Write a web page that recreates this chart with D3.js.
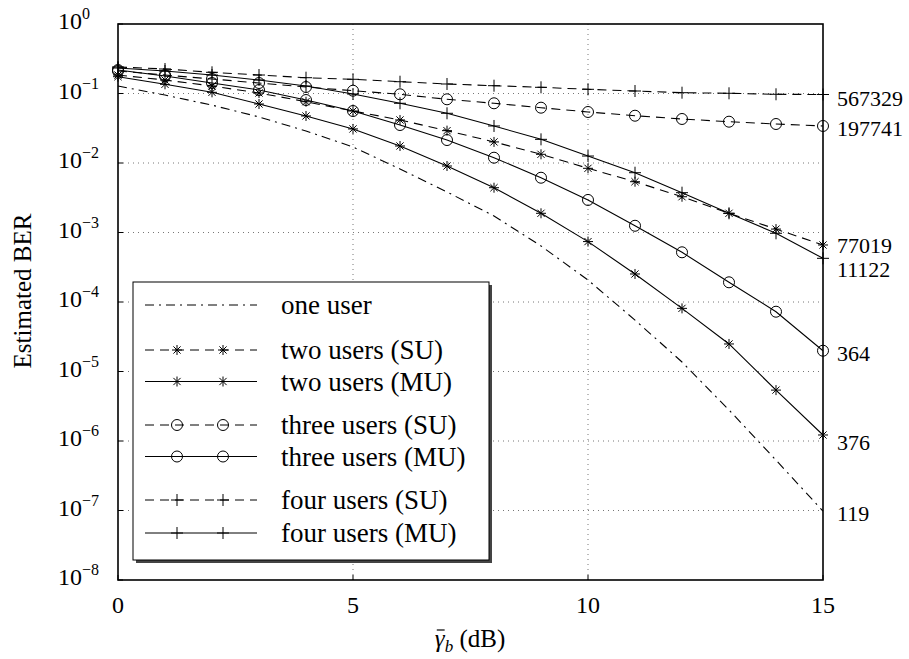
<!DOCTYPE html>
<html>
<head>
<meta charset="utf-8">
<script src="https://cdn.jsdelivr.net/npm/d3@7"></script>
<style>
  body { margin: 0; background: #fff; }
  text { font-family: "Liberation Serif", "Times New Roman", serif; fill: #000; }
</style>
</head>
<body>
<div id="chart"></div>
<script>
// data
var snrDb = [0, 1, 2, 3, 4, 5, 6, 7, 8, 9, 10, 11, 12, 13, 14, 15];

var oneUser      = [0.128, 0.095, 0.068, 0.046, 0.0289, 0.0170, 0.0082, 0.00383, 0.00173, 6.4e-4, 2.07e-4, 5.5e-5, 1.37e-5, 2.8e-6, 5.3e-7, 9.8e-8];
var twoUsersSU   = [0.1845, 0.1564, 0.1282, 0.1017, 0.0762, 0.0560, 0.0416, 0.0292, 0.0201, 0.01334, 0.00839, 0.00538, 0.00327, 0.00189, 0.00112, 6.61e-4];
var twoUsersMU   = [0.1745, 0.1356, 0.104, 0.0706, 0.0475, 0.0309, 0.01757, 0.00905, 0.00441, 0.00189, 7.4e-4, 2.53e-4, 8.1e-5, 2.49e-5, 5.4e-6, 1.22e-6];
var threeUsersSU = [0.2108, 0.1845, 0.1617, 0.1416, 0.1240, 0.1097, 0.0974, 0.0825, 0.0723, 0.0625, 0.0542, 0.0479, 0.0430, 0.0393, 0.0364, 0.0341];
var threeUsersMU = [0.2178, 0.1786, 0.1416, 0.1123, 0.0806, 0.0560, 0.0352, 0.0214, 0.01192, 0.00614, 0.00294, 0.00125, 5.19e-4, 1.92e-4, 7.25e-5, 1.99e-5];
var fourUsersSU  = [0.2406, 0.2252, 0.2018, 0.1845, 0.1688, 0.1601, 0.1478, 0.1370, 0.1295, 0.1228, 0.1149, 0.1086, 0.1027, 0.1007, 0.0974, 0.0967];
var fourUsersMU  = [0.2327, 0.2108, 0.1845, 0.1564, 0.1282, 0.0984, 0.0723, 0.0519, 0.0341, 0.0219, 0.0126, 0.00725, 0.00374, 0.00189, 9.74e-4, 4.25e-4];

var seriesNames = ["one user", "two users (SU)", "two users (MU)", "three users (SU)", "three users (MU)", "four users (SU)", "four users (MU)"];
var endLabels   = ["119", "77019", "376", "197741", "364", "567329", "11122"];

var yTickExp = [0, -1, -2, -3, -4, -5, -6, -7, -8];
var xTicks = [0, 5, 10, 15];

var margin = {top: 24, left: 118, right: 86, bottom: 79},
    width  = 909 - margin.left - margin.right,
    height = 659 - margin.top  - margin.bottom;

var x = d3.scaleLinear().domain([0, 15]).range([0, width]),
    y = d3.scaleLog().domain([1e-8, 1]).range([height, 0]);

var svg = d3.select("#chart").append("svg")
    .attr("width", 909).attr("height", 659);

svg.append("rect").attr("width", 909).attr("height", 659).attr("fill", "#fff");

var g = svg.append("g").attr("transform", "translate(" + margin.left + "," + margin.top + ")");

// dotted grid
g.selectAll(".hgrid").data(yTickExp.slice(1, -1)).enter().append("line")
  .attr("x1", 0).attr("x2", width)
  .attr("y1", function(e) { return y(Math.pow(10, e)); })
  .attr("y2", function(e) { return y(Math.pow(10, e)); })
  .attr("stroke", "#777").attr("stroke-width", 1).attr("stroke-dasharray", "1,4");

g.selectAll(".vgrid").data([5, 10]).enter().append("line")
  .attr("y1", 0).attr("y2", height)
  .attr("x1", function(d) { return x(d); })
  .attr("x2", function(d) { return x(d); })
  .attr("stroke", "#777").attr("stroke-width", 1).attr("stroke-dasharray", "1,4");

// series
var styles = [
  {data: oneUser,      dash: "9,5,2,5", mark: null},
  {data: twoUsersSU,   dash: "9,6",     mark: "star"},
  {data: twoUsersMU,   dash: null,      mark: "star"},
  {data: threeUsersSU, dash: "9,6",     mark: "circle"},
  {data: threeUsersMU, dash: null,      mark: "circle"},
  {data: fourUsersSU,  dash: "9,6",     mark: "plus"},
  {data: fourUsersMU,  dash: null,      mark: "plus"}
];

function drawMark(sel, type, cx, cy) {
  if (type === "circle") {
    sel.append("circle").attr("cx", cx).attr("cy", cy).attr("r", 5.5)
      .attr("fill", "none").attr("stroke", "#000").attr("stroke-width", 1);
  } else if (type === "plus") {
    sel.append("path").attr("d", "M" + (cx - 6) + "," + cy + "H" + (cx + 6) + "M" + cx + "," + (cy - 6) + "V" + (cy + 6))
      .attr("stroke", "#000").attr("stroke-width", 1).attr("fill", "none");
  } else if (type === "star") {
    var r = 5, d = r * 0.72;
    sel.append("path").attr("d",
        "M" + (cx - r) + "," + cy + "H" + (cx + r) +
        "M" + cx + "," + (cy - r) + "V" + (cy + r) +
        "M" + (cx - d) + "," + (cy - d) + "L" + (cx + d) + "," + (cy + d) +
        "M" + (cx - d) + "," + (cy + d) + "L" + (cx + d) + "," + (cy - d))
      .attr("stroke", "#000").attr("stroke-width", 1).attr("fill", "none");
  }
}

var line = d3.line()
    .x(function(d, i) { return x(snrDb[i]); })
    .y(function(d) { return y(d); });

styles.forEach(function(s) {
  g.append("path").datum(s.data)
    .attr("d", line)
    .attr("fill", "none").attr("stroke", "#000").attr("stroke-width", 1.1)
    .attr("stroke-dasharray", s.dash);
  if (s.mark) {
    s.data.forEach(function(v, i) { drawMark(g, s.mark, x(snrDb[i]), y(v)); });
  }
});

// labels at the right end
var labelShift = [3, 1, 8, 3, 3, 4, 12];
styles.forEach(function(s, i) {
  g.append("text")
    .attr("x", width + 14)
    .attr("y", y(s.data[s.data.length - 1]) + labelShift[i] + 7)
    .attr("font-size", 22)
    .text(endLabels[i]);
});

// legend
var lg = g.append("g").attr("transform", "translate(" + (133 - margin.left) + "," + (282 - margin.top) + ")");
var lgW = 356, lgH = 278;
lg.append("rect").attr("x", 3).attr("y", 3).attr("width", lgW).attr("height", lgH).attr("fill", "#444");
lg.append("rect").attr("width", lgW).attr("height", lgH).attr("fill", "#fff").attr("stroke", "#000").attr("stroke-width", 1);

var rowY = [23, 68, 99.5, 143, 174.5, 218, 251];
styles.forEach(function(s, i) {
  var ry = rowY[i];
  lg.append("line").attr("x1", 12).attr("x2", 124).attr("y1", ry).attr("y2", ry)
    .attr("stroke", "#000").attr("stroke-width", 1).attr("stroke-dasharray", s.dash);
  if (s.mark) {
    drawMark(lg, s.mark, 44, ry);
    drawMark(lg, s.mark, 90, ry);
  }
  lg.append("text").attr("x", 148).attr("y", ry + 9).attr("font-size", 27).text(seriesNames[i]);
});

// frame
g.append("rect").attr("width", width).attr("height", height)
  .attr("fill", "none").attr("stroke", "#000").attr("stroke-width", 1.6);

// small inside ticks
g.selectAll(".ytick").data(yTickExp).enter().append("line")
  .attr("x1", 0).attr("x2", 5)
  .attr("y1", function(e) { return y(Math.pow(10, e)); })
  .attr("y2", function(e) { return y(Math.pow(10, e)); })
  .attr("stroke", "#000");
g.selectAll(".xtick").data(xTicks).enter().append("line")
  .attr("y1", height).attr("y2", height - 5)
  .attr("x1", function(d) { return x(d); })
  .attr("x2", function(d) { return x(d); })
  .attr("stroke", "#000");

// y tick labels 10^e
var yl = g.selectAll(".ylab").data(yTickExp).enter().append("text")
  .attr("x", -60)
  .attr("y", function(e) { return y(Math.pow(10, e)) + 5; })
  .attr("font-size", 24);
yl.append("tspan").text("10");
yl.append("tspan").attr("dy", -10).attr("font-size", 16)
  .text(function(e) { return e === 0 ? "0" : "\u2212" + (-e); });

// x tick labels
g.selectAll(".xlab").data(xTicks).enter().append("text")
  .attr("x", function(d) { return x(d); })
  .attr("y", height + 33)
  .attr("text-anchor", "middle")
  .attr("font-size", 24)
  .text(function(d) { return d; });

// axis titles
svg.append("text")
  .attr("transform", "translate(31," + 291 + ") rotate(-90)")
  .attr("text-anchor", "middle")
  .attr("font-size", 25)
  .text("Estimated BER");

var xt = svg.append("text")
  .attr("x", 470).attr("y", 647)
  .attr("text-anchor", "middle")
  .attr("font-size", 25);
xt.append("tspan").attr("font-style", "italic").text("\u03b3");
xt.append("tspan").attr("font-style", "italic").attr("font-size", 17).attr("dy", 5).text("b");
xt.append("tspan").attr("dy", -5).text(" (dB)");

var gb = xt.node().getExtentOfChar(0);
svg.append("line")
  .attr("x1", gb.x + 2).attr("x2", gb.x + gb.width)
  .attr("y1", gb.y + 5).attr("y2", gb.y + 5)
  .attr("stroke", "#000").attr("stroke-width", 1.2);
</script>
</body>
</html>
